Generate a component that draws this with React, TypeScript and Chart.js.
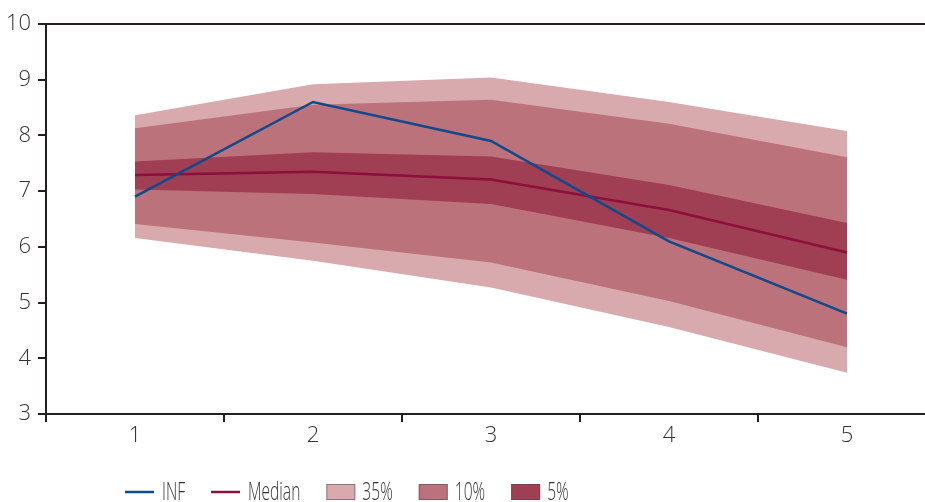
import React, { useEffect, useRef } from "react";
import { Chart, registerables } from "chart.js";

Chart.register(...registerables);

// ---- data ----
const categories = ["1", "2", "3", "4", "5"];
const infValues = [6.9, 8.6, 7.9, 6.1, 4.8];
const medianValues = [7.29, 7.35, 7.21, 6.66, 5.9];
const upper35 = [8.36, 8.92, 9.04, 8.6, 8.08];
const lower35 = [6.16, 5.75, 5.27, 4.56, 3.74];
const upper10 = [8.13, 8.55, 8.64, 8.21, 7.61];
const lower10 = [6.41, 6.08, 5.72, 5.03, 4.2];
const upper5 = [7.53, 7.7, 7.62, 7.11, 6.43];
const lower5 = [7.03, 6.95, 6.77, 6.16, 5.41];
const yMin = 3;
const yMax = 10;
const legendLabels = ["INF", "Median", "35%", "10%", "5%"];

// ---- styles ----
const FONT = "'Open Sans', 'DejaVu Sans', sans-serif";
const AXIS = "#231f20";
const TEXT = "#333333";
const C_INF = "#0e4a8c";
const C_MED = "#8c0f3c";
const C_35 = "#d9aaad";
const C_10 = "#bb727b";
const C_5 = "#a03e53";

const legendKinds = [
  { kind: "line", color: C_INF },
  { kind: "line", color: C_MED },
  { kind: "box", color: C_35 },
  { kind: "box", color: C_10 },
  { kind: "box", color: C_5 },
];

const TEXT_SQUEEZE = 0.6;

const legendPlugin = {
  id: "bottomLegend",
  afterDraw(chart: any) {
    const ctx = chart.ctx;
    ctx.save();
    ctx.font = `300 26px ${FONT}`;
    ctx.textBaseline = "alphabetic";
    ctx.textAlign = "left";
    let x = 125;
    const cy = 492;
    legendLabels.forEach((label, i) => {
      const k = legendKinds[i];
      if (k.kind === "line") {
        ctx.strokeStyle = k.color;
        ctx.lineWidth = 2.5;
        ctx.beginPath();
        ctx.moveTo(x, cy);
        ctx.lineTo(x + 29, cy);
        ctx.stroke();
        x += 29 + 8;
      } else {
        ctx.fillStyle = k.color;
        ctx.fillRect(x, cy - 8, 29, 16);
        ctx.strokeStyle = "rgba(90,70,75,0.55)";
        ctx.lineWidth = 1;
        ctx.strokeRect(x + 0.5, cy - 7.5, 28, 15);
        x += 29 + 7;
      }
      ctx.fillStyle = TEXT;
      ctx.save();
      ctx.translate(x, 500);
      ctx.scale(TEXT_SQUEEZE, 1);
      ctx.fillText(label, 0, 0);
      ctx.restore();
      x += ctx.measureText(label).width * TEXT_SQUEEZE + 26;
    });
    ctx.restore();
  },
};

const band = (data: number[], color: string | undefined, fill: any, order: number, label: string) => ({
  label,
  data,
  borderWidth: 0,
  borderColor: "rgba(0,0,0,0)",
  backgroundColor: color || "rgba(0,0,0,0)",
  pointRadius: 0,
  fill,
  order,
  tension: 0,
});

export default function App() {
  const ref = useRef<HTMLCanvasElement | null>(null);

  useEffect(() => {
    if (!ref.current) return;
    const chart = new Chart(ref.current, {
      type: "line",
      data: {
        labels: categories,
        datasets: [
          {
            label: "INF",
            data: infValues,
            borderColor: C_INF,
            borderWidth: 2.5,
            pointRadius: 0,
            fill: false,
            order: 0,
            tension: 0,
          } as any,
          {
            label: "Median",
            data: medianValues,
            borderColor: C_MED,
            borderWidth: 2.5,
            pointRadius: 0,
            fill: false,
            order: 1,
            tension: 0,
          } as any,
          band(upper5, C_5, "+1", 2, "5%"),
          band(lower5, undefined, false, 2, "5% low"),
          band(upper10, C_10, "+1", 3, "10%"),
          band(lower10, undefined, false, 3, "10% low"),
          band(upper35, C_35, "+1", 4, "35%"),
          band(lower35, undefined, false, 4, "35% low"),
        ],
      },
      options: {
        animation: false,
        responsive: false,
        devicePixelRatio: 1,
        layout: { padding: { left: 0, right: 4, top: 24, bottom: 50 } },
        plugins: {
          legend: { display: false },
          tooltip: { enabled: false },
        },
        scales: {
          x: {
            type: "category",
            offset: true,
            grid: {
              offset: true,
              drawOnChartArea: false,
              drawTicks: true,
              tickLength: 8,
              color: AXIS,
              lineWidth: 2,
            },
            border: { color: AXIS, width: 2 },
            ticks: {
              color: TEXT,
              font: { family: FONT, size: 22, weight: "300" as any },
              padding: 1,
            },
            afterFit: (s: any) => {
              s.height = 38;
            },
          },
          y: {
            min: yMin,
            max: yMax,
            grid: {
              drawOnChartArea: true,
              drawTicks: true,
              tickLength: 8,
              lineWidth: 2,
              color: (c: any) => (c.tick && c.tick.value === yMax ? AXIS : "rgba(0,0,0,0)"),
              tickColor: AXIS,
            },
            border: { color: AXIS, width: 2 },
            ticks: {
              stepSize: 1,
              autoSkip: false,
              color: TEXT,
              padding: 7,
              font: { family: FONT, size: 22, weight: "300" as any },
            },
            afterFit: (s: any) => {
              s.width = 46;
            },
          },
        },
      },
      plugins: [legendPlugin],
    });
    return () => chart.destroy();
  }, []);

  return (
    <div
      style={{
        position: "fixed",
        left: 0,
        top: 0,
        width: 925,
        height: 502,
        overflow: "hidden",
        background: "#ffffff",
      }}
    >
      <canvas ref={ref} width={940} height={502} style={{ display: "block" }} />
    </div>
  );
}
